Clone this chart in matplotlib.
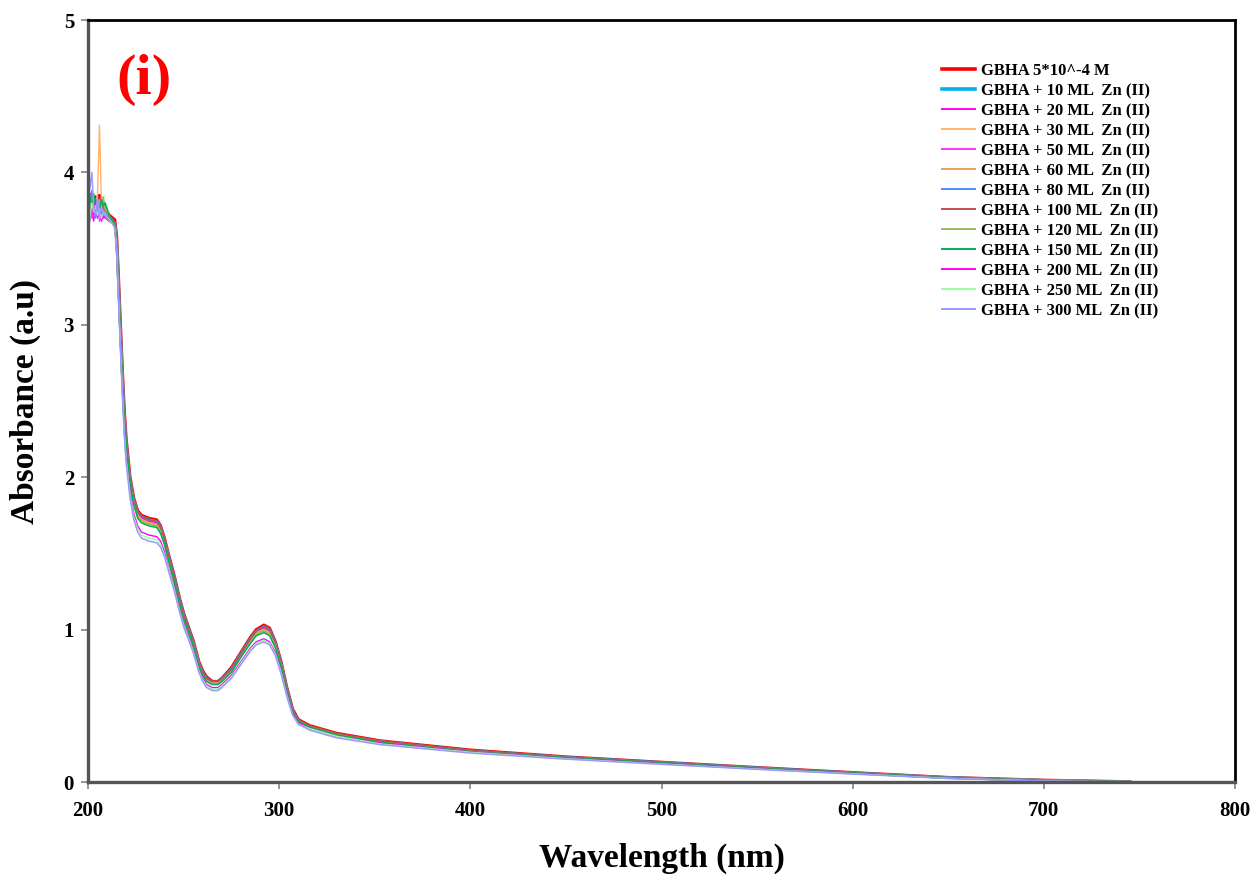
import matplotlib
matplotlib.use("Agg")
import matplotlib.pyplot as plt

# Wavelength grid (nm)
wavelength = [200, 201, 202, 203, 204, 205, 206, 207, 208, 209, 210, 211, 212, 213, 214,
              215, 216, 217, 218, 219, 220, 222, 224, 226, 228, 232, 236, 238, 240, 242,
              245, 248, 250, 253, 255, 258, 260, 262, 265, 268, 270, 275, 280, 285, 288,
              292, 295, 298, 301, 304, 307, 310, 316, 330, 353, 400, 450, 500, 550, 600,
              650, 700, 745]

# Absorbance for each titration step
abs_gbha = [3.72, 3.80, 3.86, 3.78, 3.84, 3.80, 3.85, 3.78, 3.80, 3.76, 3.74, 3.72, 3.71, 3.70, 3.69,
            3.58, 3.30, 3.00, 2.70, 2.44, 2.25, 2.00, 1.86, 1.78, 1.75, 1.73, 1.72, 1.68, 1.60, 1.50,
            1.36, 1.20, 1.11, 1.00, 0.93, 0.79, 0.73, 0.69, 0.66, 0.66, 0.68, 0.75, 0.85, 0.95, 1.00,
            1.03, 1.01, 0.92, 0.79, 0.62, 0.48, 0.41, 0.37, 0.32, 0.27, 0.21, 0.165, 0.13, 0.095, 0.062,
            0.030, 0.012, 0.002]
abs_zn10 = [3.78, 3.84, 3.76, 3.82, 3.74, 3.80, 3.76, 3.79, 3.73, 3.77, 3.72, 3.70, 3.70, 3.68, 3.66,
            3.55, 3.26, 2.95, 2.66, 2.40, 2.22, 1.98, 1.85, 1.77, 1.74, 1.72, 1.71, 1.67, 1.59, 1.49,
            1.35, 1.19, 1.10, 0.99, 0.92, 0.78, 0.72, 0.68, 0.65, 0.65, 0.67, 0.74, 0.84, 0.94, 0.99,
            1.02, 1.00, 0.91, 0.78, 0.61, 0.47, 0.40, 0.36, 0.31, 0.265, 0.205, 0.162, 0.128, 0.093, 0.060,
            0.029, 0.011, 0.001]
abs_zn20 = [3.70, 3.82, 3.74, 3.68, 3.80, 3.72, 3.76, 3.70, 3.74, 3.71, 3.70, 3.69, 3.68, 3.67, 3.65,
            3.54, 3.24, 2.93, 2.64, 2.38, 2.20, 1.97, 1.84, 1.76, 1.73, 1.71, 1.70, 1.66, 1.58, 1.48,
            1.34, 1.18, 1.09, 0.98, 0.91, 0.77, 0.71, 0.67, 0.65, 0.65, 0.67, 0.73, 0.83, 0.93, 0.98,
            1.01, 0.99, 0.90, 0.77, 0.60, 0.46, 0.40, 0.36, 0.31, 0.26, 0.20, 0.160, 0.125, 0.090, 0.058,
            0.027, 0.010, 0.000]
abs_zn30 = [3.76, 3.82, 3.78, 3.84, 3.80, 3.86, 4.31, 3.82, 3.79, 3.76, 3.75, 3.72, 3.70, 3.68, 3.66,
            3.53, 3.23, 2.92, 2.63, 2.37, 2.19, 1.96, 1.83, 1.75, 1.72, 1.70, 1.69, 1.65, 1.57, 1.47,
            1.33, 1.17, 1.08, 0.98, 0.91, 0.77, 0.71, 0.67, 0.65, 0.65, 0.67, 0.73, 0.83, 0.93, 0.98,
            1.00, 0.98, 0.90, 0.77, 0.60, 0.46, 0.40, 0.36, 0.31, 0.26, 0.20, 0.158, 0.124, 0.090, 0.058,
            0.027, 0.010, 0.000]
abs_zn50 = [3.74, 3.86, 3.70, 3.78, 3.72, 3.80, 3.68, 3.76, 3.70, 3.74, 3.70, 3.69, 3.68, 3.67, 3.65,
            3.52, 3.22, 2.92, 2.62, 2.37, 2.19, 1.96, 1.83, 1.75, 1.72, 1.70, 1.69, 1.65, 1.57, 1.47,
            1.33, 1.17, 1.08, 0.97, 0.90, 0.77, 0.71, 0.67, 0.65, 0.65, 0.66, 0.73, 0.83, 0.93, 0.97,
            1.00, 0.98, 0.89, 0.76, 0.60, 0.46, 0.40, 0.36, 0.31, 0.26, 0.20, 0.158, 0.123, 0.089, 0.057,
            0.026, 0.009, 0.000]
abs_zn60 = [3.80, 3.84, 3.80, 3.78, 3.82, 3.78, 3.80, 3.76, 3.78, 3.74, 3.72, 3.70, 3.69, 3.68, 3.66,
            3.53, 3.23, 2.93, 2.63, 2.38, 2.20, 1.97, 1.83, 1.75, 1.72, 1.70, 1.69, 1.65, 1.57, 1.47,
            1.33, 1.17, 1.08, 0.98, 0.91, 0.77, 0.71, 0.67, 0.65, 0.65, 0.67, 0.73, 0.83, 0.93, 0.98,
            1.00, 0.98, 0.90, 0.77, 0.60, 0.46, 0.40, 0.36, 0.31, 0.26, 0.20, 0.159, 0.124, 0.090, 0.058,
            0.027, 0.010, 0.001]
abs_zn80 = [3.66, 3.80, 3.88, 3.74, 3.70, 3.78, 3.72, 3.76, 3.70, 3.74, 3.71, 3.70, 3.69, 3.68, 3.66,
            3.55, 3.26, 2.96, 2.66, 2.41, 2.22, 1.98, 1.85, 1.77, 1.74, 1.72, 1.71, 1.67, 1.59, 1.49,
            1.35, 1.19, 1.10, 0.99, 0.92, 0.78, 0.72, 0.68, 0.66, 0.66, 0.68, 0.74, 0.84, 0.94, 0.99,
            1.02, 1.00, 0.91, 0.78, 0.61, 0.47, 0.40, 0.36, 0.31, 0.265, 0.205, 0.162, 0.127, 0.092, 0.060,
            0.029, 0.011, 0.001]
abs_zn100 = [3.76, 3.82, 3.80, 3.84, 3.78, 3.82, 3.80, 3.78, 3.77, 3.75, 3.73, 3.71, 3.70, 3.69, 3.67,
             3.56, 3.27, 2.97, 2.67, 2.42, 2.23, 1.99, 1.85, 1.77, 1.74, 1.72, 1.71, 1.67, 1.59, 1.49,
             1.35, 1.19, 1.10, 0.99, 0.92, 0.78, 0.72, 0.68, 0.66, 0.66, 0.68, 0.74, 0.84, 0.94, 0.99,
             1.02, 1.00, 0.91, 0.78, 0.62, 0.47, 0.41, 0.37, 0.32, 0.27, 0.208, 0.163, 0.128, 0.093, 0.061,
             0.029, 0.011, 0.001]
abs_zn120 = [3.72, 3.78, 3.82, 3.76, 3.80, 3.74, 3.82, 3.78, 3.84, 3.76, 3.74, 3.71, 3.69, 3.68, 3.66,
             3.53, 3.22, 2.92, 2.62, 2.37, 2.19, 1.96, 1.82, 1.74, 1.71, 1.69, 1.68, 1.64, 1.56, 1.46,
             1.32, 1.16, 1.07, 0.97, 0.90, 0.76, 0.70, 0.66, 0.64, 0.64, 0.66, 0.72, 0.82, 0.92, 0.97,
             0.99, 0.97, 0.89, 0.76, 0.60, 0.46, 0.40, 0.36, 0.31, 0.26, 0.20, 0.158, 0.123, 0.089, 0.057,
             0.026, 0.009, 0.000]
abs_zn150 = [3.68, 3.84, 3.78, 3.86, 3.76, 3.80, 3.74, 3.82, 3.78, 3.80, 3.76, 3.72, 3.70, 3.68, 3.66,
             3.54, 3.24, 2.93, 2.63, 2.38, 2.20, 1.96, 1.82, 1.73, 1.70, 1.68, 1.67, 1.63, 1.56, 1.46,
             1.32, 1.16, 1.07, 0.97, 0.90, 0.76, 0.70, 0.66, 0.64, 0.64, 0.66, 0.72, 0.82, 0.91, 0.96,
             0.98, 0.96, 0.88, 0.76, 0.60, 0.46, 0.40, 0.36, 0.31, 0.26, 0.20, 0.160, 0.125, 0.091, 0.059,
             0.028, 0.010, 0.001]
abs_zn200 = [3.74, 3.68, 3.78, 3.72, 3.82, 3.70, 3.76, 3.68, 3.72, 3.70, 3.69, 3.68, 3.67, 3.66, 3.64,
             3.50, 3.18, 2.86, 2.56, 2.30, 2.12, 1.90, 1.76, 1.68, 1.64, 1.62, 1.61, 1.58, 1.51, 1.41,
             1.28, 1.13, 1.04, 0.94, 0.87, 0.74, 0.68, 0.64, 0.62, 0.62, 0.64, 0.70, 0.79, 0.88, 0.92,
             0.94, 0.92, 0.85, 0.73, 0.58, 0.45, 0.39, 0.35, 0.30, 0.255, 0.197, 0.155, 0.120, 0.087, 0.055,
             0.025, 0.008, 0.000]
abs_zn250 = [3.52, 3.70, 3.80, 3.74, 3.78, 3.72, 3.76, 3.70, 3.74, 3.72, 3.70, 3.69, 3.67, 3.66, 3.64,
             3.50, 3.17, 2.85, 2.55, 2.29, 2.11, 1.88, 1.74, 1.66, 1.62, 1.60, 1.59, 1.56, 1.49, 1.40,
             1.27, 1.12, 1.03, 0.93, 0.86, 0.73, 0.67, 0.63, 0.61, 0.61, 0.63, 0.69, 0.78, 0.87, 0.91,
             0.93, 0.91, 0.84, 0.72, 0.57, 0.44, 0.38, 0.35, 0.30, 0.25, 0.195, 0.153, 0.118, 0.085, 0.054,
             0.024, 0.007, 0.000]
abs_zn300 = [3.82, 3.90, 4.00, 3.76, 3.72, 3.84, 3.70, 3.78, 3.72, 3.74, 3.70, 3.69, 3.68, 3.66, 3.64,
             3.48, 3.15, 2.83, 2.53, 2.27, 2.09, 1.86, 1.72, 1.64, 1.60, 1.58, 1.57, 1.54, 1.48, 1.39,
             1.26, 1.11, 1.02, 0.92, 0.85, 0.72, 0.66, 0.62, 0.60, 0.60, 0.62, 0.68, 0.77, 0.86, 0.90,
             0.92, 0.90, 0.83, 0.71, 0.56, 0.44, 0.38, 0.34, 0.29, 0.245, 0.19, 0.150, 0.116, 0.083, 0.052,
             0.023, 0.006, 0.000]

series_labels = ["GBHA 5*10^-4 M",
                 "GBHA + 10 ML  Zn (II)", "GBHA + 20 ML  Zn (II)", "GBHA + 30 ML  Zn (II)",
                 "GBHA + 50 ML  Zn (II)", "GBHA + 60 ML  Zn (II)", "GBHA + 80 ML  Zn (II)",
                 "GBHA + 100 ML  Zn (II)", "GBHA + 120 ML  Zn (II)", "GBHA + 150 ML  Zn (II)",
                 "GBHA + 200 ML  Zn (II)", "GBHA + 250 ML  Zn (II)", "GBHA + 300 ML  Zn (II)"]
series_values = [abs_gbha, abs_zn10, abs_zn20, abs_zn30, abs_zn50, abs_zn60, abs_zn80,
                 abs_zn100, abs_zn120, abs_zn150, abs_zn200, abs_zn250, abs_zn300]
series_colors = ["#FF0000", "#00B0F0", "#FF00FF", "#FFB366", "#FF33FF", "#E8A060", "#4A8FEF",
                 "#C0504D", "#9BBB59", "#00B050", "#FF00FF", "#99FF99", "#9999FF"]
series_widths = [2.2, 2.0, 1.0, 1.0, 1.0, 1.6, 1.1, 1.1, 1.1, 1.1, 1.0, 1.0, 1.1]

plt.rcParams['font.family'] = ['Liberation Serif', 'DejaVu Serif']
plt.rcParams['font.weight'] = 'bold'

fig = plt.figure(figsize=(12.53, 8.77), dpi=100)
ax = fig.add_axes([88 / 1253, 95 / 877, (1235 - 88) / 1253, (782 - 20) / 877])

for vals, lab, col, lw in zip(series_values, series_labels, series_colors, series_widths):
    ax.plot(wavelength, vals, color=col, lw=lw, label=lab, solid_joinstyle='round')

ax.set_xlim(200, 800)
ax.set_ylim(0, 5)
ax.set_xticks([200, 300, 400, 500, 600, 700, 800])
ax.set_yticks([0, 1, 2, 3, 4, 5])

for side in ("left", "bottom"):
    ax.spines[side].set_color("#555555")
    ax.spines[side].set_linewidth(2.4)
for side in ("top", "right"):
    ax.spines[side].set_color("black")
    ax.spines[side].set_linewidth(2.0)

ax.tick_params(axis='both', direction='out', length=5, width=1.3, color='#8c8c8c',
               labelsize=15)
ax.tick_params(axis='x', pad=9)
ax.tick_params(axis='y', pad=5)
for t in ax.get_xticklabels() + ax.get_yticklabels():
    t.set_fontweight('bold')

ax.set_xlabel("Wavelength (nm)", fontsize=24, fontweight='bold', labelpad=15)
ax.set_ylabel("Absorbance (a.u)", fontsize=24, fontweight='bold', labelpad=16)

fig.text(144 / 1253, 1 - 80 / 877, "(i)", color="#FF0000", fontsize=42,
         fontweight='bold', ha='center', va='center')

leg = ax.legend(loc='upper left', bbox_to_anchor=(942 / 1253, 1 - 63 / 877),
                bbox_transform=fig.transFigure, frameon=False, fontsize=12,
                handlelength=2.0, handletextpad=0.35, labelspacing=0.24,
                borderpad=0, borderaxespad=0)
for i, line in enumerate(leg.get_lines()):
    line.set_linewidth(2.6 if i < 2 else 1.4)
for t in leg.get_texts():
    t.set_fontweight('bold')

fig.savefig("out.png", dpi=100)
